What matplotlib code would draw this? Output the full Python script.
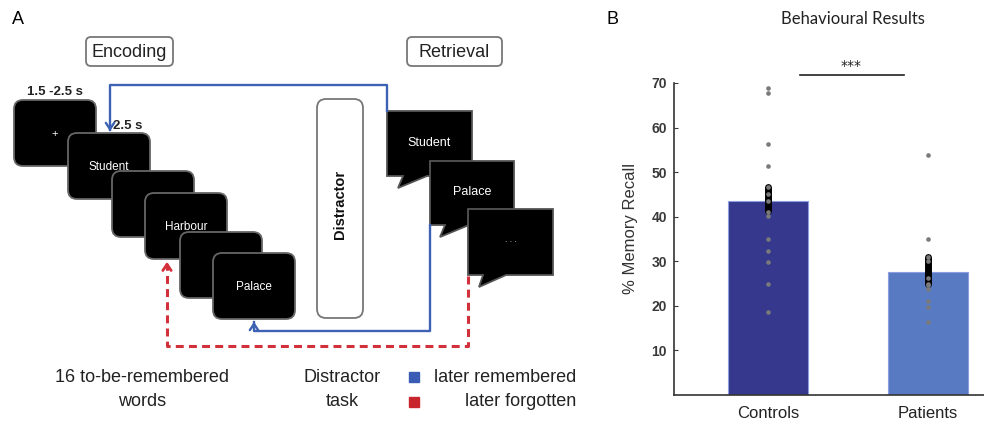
import numpy as np
import matplotlib.pyplot as plt
from matplotlib.patches import FancyBboxPatch, Polygon, Rectangle

# Panel B data
groups = ['Controls', 'Patients']
recall_mean = [43.6, 27.6]
err_low = [41.2, 24.8]
err_high = [46.6, 31.0]
controls_pts = [68.9, 67.8, 56.3, 51.3, 46.6, 45.2, 43.6, 41.1, 40.1,
                34.9, 32.3, 29.8, 24.9, 18.6]
patients_pts = [53.8, 34.9, 31.0, 30.1, 26.2, 25.0, 24.6, 23.8, 21.1, 19.8, 16.3]
yticks = [10, 20, 30, 40, 50, 60, 70]

# Panel A texts
frame_words = ['+', 'Student', '', 'Harbour', '', 'Palace']
bubble_words = ['Student', 'Palace', '. . .']

W, H = 984, 429
SANS = ['Liberation Sans', 'DejaVu Sans']
BLUE = '#3d62b3'
RED = '#d2303a'

fig = plt.figure(figsize=(W / 100, H / 100), dpi=100)

# diagram layer in pixel coordinates
dg = fig.add_axes([0, 0, 1, 1])
dg.set_xlim(0, W)
dg.set_ylim(H, 0)
dg.axis('off')

dg.text(18, 19, 'A', fontsize=13, family=SANS, ha='center', va='center')
dg.text(612, 19, 'B', fontsize=13, family=SANS, ha='center', va='center')

# phase labels
for (x, y, w, h), lab in [((86, 37, 87, 29), 'Encoding'), ((407, 37, 95, 29), 'Retrieval')]:
    dg.add_patch(FancyBboxPatch((x, y), w, h, boxstyle='round,pad=0,rounding_size=5',
                                fc='white', ec='#777777', lw=1.3))
    dg.text(x + w / 2, y + h / 2 + 1, lab, family=SANS, fontsize=13,
            ha='center', va='center', color='#222222')

dg.text(55, 92, '1.5 -2.5 s', family=SANS, fontsize=9.5, fontweight='bold',
        ha='center', va='center', color='#222222')
dg.text(128, 126, '2.5 s', family=SANS, fontsize=9.5, fontweight='bold',
        ha='center', va='center', color='#222222')

# encoding frames
frame_xy = [(14, 100), (68, 133), (112, 171), (145, 193), (180, 232), (213, 253)]
for i, ((x, y), word) in enumerate(zip(frame_xy, frame_words)):
    dg.add_patch(FancyBboxPatch((x, y), 82, 66, boxstyle='round,pad=0,rounding_size=9',
                                fc='black', ec='#666666', lw=1.3, zorder=2 + 2 * i))
    if word:
        dg.text(x + 41, y + 34, word, family=SANS, fontsize=8.5 if word != '+' else 8,
                color='white', ha='center', va='center', zorder=3 + 2 * i)

# distractor
dg.add_patch(FancyBboxPatch((317, 99), 46, 219, boxstyle='round,pad=0,rounding_size=9',
                            fc='white', ec='#777777', lw=1.3))
dg.text(340, 204, 'Distractor', family=SANS, fontsize=10.5, fontweight='bold',
        rotation=90, ha='center', va='center', color='#111111')

# retrieval speech bubbles: x0, x1, y0, y1, tail base left, tail base right, tip
bubbles = [(387, 472, 111, 176, 403, 427, (398, 188)),
           (430, 514, 161, 225, 445, 469, (440, 237)),
           (468, 553, 209, 275, 483, 506, (479, 287))]
for i, ((x0, x1, y0, y1, tl, tr, tip), word) in enumerate(zip(bubbles, bubble_words)):
    pts = [(x0, y0), (x1, y0), (x1, y1), (tr, y1), tip, (tl, y1), (x0, y1)]
    dg.add_patch(Polygon(pts, closed=True, fc='black', ec='#555555', lw=1.3, zorder=2 + 2 * i))
    dg.text((x0 + x1) / 2, (y0 + y1) / 2 - 1, word, family=SANS,
            fontsize=9 if i < 2 else 6, color='#dddddd' if i == 2 else 'white',
            ha='center', va='center', zorder=3 + 2 * i)

# connections
head = '->,head_length=0.45,head_width=0.3'
dg.plot([387, 387, 110, 110], [111, 85, 85, 130], color=BLUE, lw=1.7, zorder=20)
dg.annotate('', xy=(110, 134), xytext=(110, 122),
            arrowprops=dict(arrowstyle=head, color=BLUE, lw=1.7), zorder=20)
dg.plot([430, 430, 254, 254], [225, 331, 331, 322], color=BLUE, lw=1.7, zorder=20)
dg.annotate('', xy=(254, 319), xytext=(254, 331),
            arrowprops=dict(arrowstyle=head, color=BLUE, lw=1.7), zorder=20)
dg.plot([468, 468, 167, 167], [276, 346, 346, 264], color=RED, lw=2.2,
        ls=(0, (2.6, 1.7)), zorder=20)
dg.annotate('', xy=(167, 259), xytext=(167, 271),
            arrowprops=dict(arrowstyle=head, color=RED, lw=2), zorder=20)

# bottom captions
cap = dict(family=SANS, fontsize=13, va='center', color='#222222')
dg.text(142, 377, '16 to-be-remembered', ha='center', **cap)
dg.text(142, 402, 'words', ha='center', **cap)
dg.text(342, 377, 'Distractor', ha='center', **cap)
dg.text(342, 402, 'task', ha='center', **cap)
dg.add_patch(Rectangle((409, 372), 10, 10, color='#3b5cb5'))
dg.add_patch(Rectangle((409, 397), 10, 10, color='#c9252c'))
dg.text(576, 377, 'later remembered', ha='right', **cap)
dg.text(576, 402, 'later forgotten', ha='right', **cap)

# Panel B: bar chart
dg.text(853, 19, 'Behavioural Results', family='Lato', fontsize=12,
        ha='center', va='center', color='#222222')

ax = fig.add_axes([674 / W, 1 - 395 / H, (W - 674) / W, (395 - 83) / H])
xpos = np.arange(1, len(groups) + 1)
ax.bar(xpos, recall_mean, width=0.5, color=['#35388c', '#587ac2'],
       edgecolor='#8d9ee0', linewidth=0.8, zorder=1)
for x, lo, hi in zip(xpos, err_low, err_high):
    ax.plot([x, x], [lo, hi], color='black', lw=5, solid_capstyle='round', zorder=2)
ax.scatter(np.full(len(controls_pts), xpos[0]), controls_pts, s=11, c='#7a7a7a',
           linewidths=0, zorder=3)
ax.scatter(np.full(len(patients_pts), xpos[1]), patients_pts, s=11, c='#7a7a7a',
           linewidths=0, zorder=3)

ax.plot([1.2, 1.85], [71.7, 71.7], color='#222222', lw=1.2, clip_on=False)
ax.text(1.52, 72.3, '***', ha='center', va='bottom', fontsize=10, color='#222222')

ax.set_xlim(0.41, 2.35)
ax.set_ylim(0, 70)
ax.set_yticks(yticks)
ax.set_xticks(xpos)
ax.set_xticklabels(groups, fontsize=12, family=SANS, color='#222222')
ax.tick_params(axis='x', length=0, pad=8)
ax.tick_params(axis='y', direction='in', length=3, labelsize=10, colors='#3a3a3a', pad=5)
for lab in ax.get_yticklabels():
    lab.set_fontweight('bold')
    lab.set_family(SANS)
ax.set_ylabel('% Memory Recall', fontsize=12, family=SANS, color='#333333')
ax.yaxis.set_label_coords(-0.116, 0.535)
for s in ['top', 'right']:
    ax.spines[s].set_visible(False)
for s in ['left', 'bottom']:
    ax.spines[s].set_color('#333333')
    ax.spines[s].set_linewidth(1.2)

fig.savefig('out.png', dpi=100)
